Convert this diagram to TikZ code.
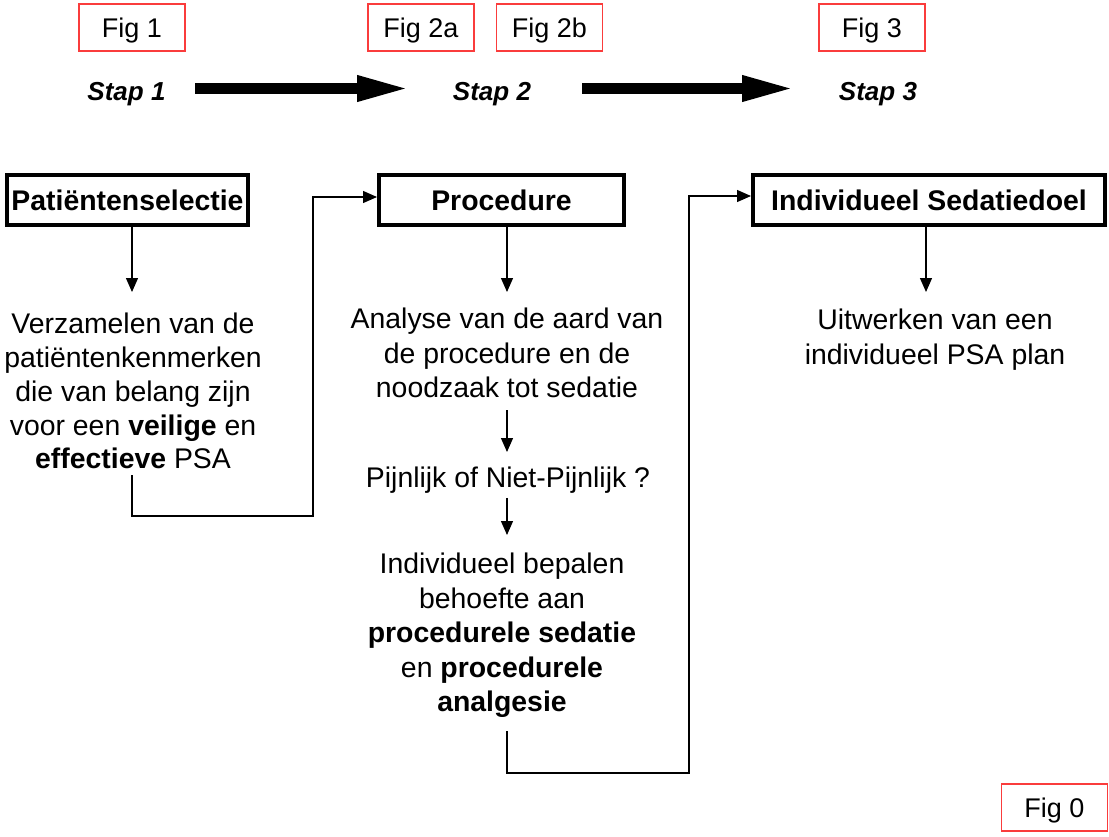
\documentclass[tikz,border=0pt]{standalone}
\usepackage{fontspec}
\setmainfont{Liberation Sans}
\usetikzlibrary{arrows.meta,calc}
\definecolor{figred}{RGB}{250,60,60}
\begin{document}
\begin{tikzpicture}[x=1pt,y=-1pt,
  every node/.style={inner sep=0pt},
  figbox/.style={draw=figred, line width=1.5pt, minimum width=106pt, minimum height=47pt,
    text height=19.3pt, text depth=0pt, font=\fontsize{27}{32}\selectfont},
  stap/.style={text height=18.6pt, text depth=0pt, font=\fontsize{26}{30}\selectfont\bfseries\itshape},
  titlebox/.style={draw, line width=4pt, minimum height=50pt,
    font=\fontsize{28.4}{34}\selectfont\bfseries},
  body/.style={align=center, anchor=north, font=\fontsize{28.4}{34.5}\selectfont},
  link/.style={line width=1.3pt, -{Triangle[length=14pt,width=12pt]}},
  bigarrow/.style={line width=11.5pt, -{Triangle[length=55pt,width=23pt]}},
]
\useasboundingbox (0,0) rectangle (1109,836);

% figure references
\node[figbox] (f1)  at (132,27.5) {Fig 1};
\node[figbox] (f2a) at (421,27.5) {Fig 2a};
\node[figbox] (f2b) at (549.5,27.5) {Fig 2b};
\node[figbox] (f3)  at (872,27.5) {Fig 3};
\node[figbox] (f0)  at (1054.5,807.5) {Fig 0};

% step labels and the arrows between them
\node[stap] (s1) at (126.5,91.3) {Stap 1};
\node[stap] (s2) at (492,91.3) {Stap 2};
\node[stap] (s3) at (878,91.3) {Stap 3};
\coordinate (a1s) at (195,88.5);
\coordinate (a1e) at (412,88.5);
\coordinate (a2s) at (582,88.5);
\coordinate (a2e) at (797,88.5);
\draw[bigarrow] (a1s) -- (a1e);
\draw[bigarrow] (a2s) -- (a2e);

% headings
\node[titlebox, minimum width=241pt] (b1) at (127.5,200) {Patiëntenselectie};
\node[titlebox, minimum width=245pt] (b2) at (501.5,200) {Procedure};
\node[titlebox, minimum width=352pt] (b3) at (929,200) {Individueel Sedatiedoel};

% column texts
\node[body, font=\fontsize{28.4}{33.75}\selectfont] (t1) at (133,313) {Verzamelen van de\\patiëntenkenmerken\\die van belang zijn\\voor een \textbf{veilige} en\\\textbf{effectieve} PSA};
\node[body] (t2) at (507,308) {Analyse van de aard van\\de procedure en de\\noodzaak tot sedatie};
\node[body] (pain) at (508,467) {Pijnlijk of Niet-Pijnlijk ?};
\node[body] (t3) at (502,553) {Individueel bepalen\\behoefte aan\\\textbf{procedurele sedatie}\\en \textbf{procedurele}\\\textbf{analgesie}};
\node[body] (t4) at (935,309) {Uitwerken van een\\individueel PSA plan};

% vertical arrows
\draw[link] (b1.south -| 132,0) -- (132,292);
\draw[link] (b2.south -| 507,0) -- (507,292);
\draw[link] ($(t2.south -| 507,0)+(0,12)$) -- (507,452);
\draw[link] ($(pain.south -| 507,0)+(0,4)$) -- (507,535);
\draw[link] (b3.south -| 926,0) -- (926,292);

% links between columns
\coordinate (h1) at (313,516);
\coordinate (h2) at (689,773);
\draw[link] ($(t1.south -| 132,0)+(0,6)$) |- (h1) |- ([yshift=3pt]b2.west);
\draw[link] (507,731) |- (h2) |- ([yshift=4pt]b3.west);
\end{tikzpicture}
\end{document}
